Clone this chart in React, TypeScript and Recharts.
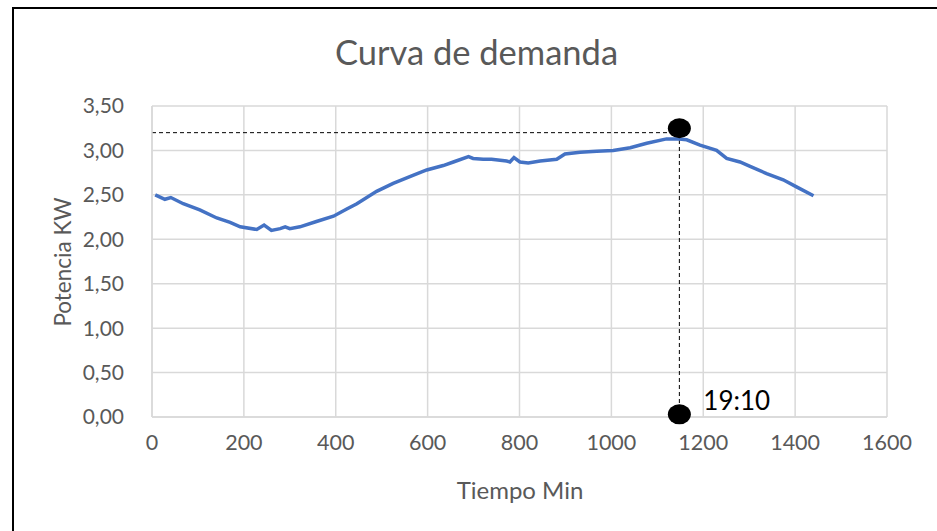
import React from "react";
import {
  LineChart,
  Line,
  XAxis,
  YAxis,
  CartesianGrid,
  ReferenceLine,
  ReferenceDot,
} from "recharts";

// minutes of the day vs demand (kW)
const minutes = [
  7, 28, 41, 68, 104, 141, 170, 192, 228, 244, 260, 279, 290, 300, 322, 358, 395, 424,
  446, 489, 525, 568, 598, 634, 656, 689, 699, 721, 739, 772, 779, 788, 801, 819, 845,
  881, 899, 932, 968, 1004, 1041, 1077, 1120, 1142, 1164, 1193, 1229, 1251, 1280, 1302,
  1338, 1374, 1403, 1440,
];
const potencia = [
  2.5, 2.45, 2.47, 2.4, 2.33, 2.24, 2.19, 2.14, 2.11, 2.16, 2.1, 2.12, 2.14, 2.12, 2.14,
  2.2, 2.26, 2.34, 2.4, 2.54, 2.63, 2.72, 2.78, 2.83, 2.87, 2.93, 2.91, 2.9, 2.9, 2.88,
  2.87, 2.92, 2.87, 2.86, 2.88, 2.9, 2.96, 2.98, 2.99, 3.0, 3.03, 3.08, 3.13, 3.13, 3.12,
  3.06, 3.0, 2.91, 2.87, 2.82, 2.74, 2.67, 2.59, 2.49,
];
const xTicks = [0, 200, 400, 600, 800, 1000, 1200, 1400, 1600];
const yTicks = [0, 0.5, 1, 1.5, 2, 2.5, 3, 3.5];

// peak marker
const peakMin = 1148;
const peakKw = 3.2;
const peakLabel = "19:10";

const data = minutes.map((m, i) => ({ m, kw: potencia[i] }));

const FONT = "Lato, 'Open Sans', sans-serif";
const GRAY = "#595959";
const GRID = "#d9d9d9";

const blob = (props: any) => (
  <ellipse cx={props.cx} cy={props.cy} rx={11.5} ry={10} fill="#000" />
);

export default function App() {
  return (
    <div
      style={{
        position: "absolute",
        left: 0,
        top: 0,
        width: 937,
        height: 531,
        overflow: "hidden",
        background: "#fff",
        fontFamily: FONT,
      }}
    >
      {/* outer frame */}
      <div
        style={{
          position: "absolute",
          left: 12,
          top: 7,
          width: 960,
          height: 560,
          border: "2px solid #000",
        }}
      />
      <div
        style={{
          position: "absolute",
          left: 0,
          width: 953,
          top: 29,
          textAlign: "center",
          fontSize: 34.5,
          color: GRAY,
          lineHeight: "46px",
        }}
      >
        Curva de demanda
      </div>
      <div
        style={{
          position: "absolute",
          left: 63 - 100,
          top: 262 - 15,
          width: 200,
          textAlign: "center",
          fontSize: 22.5,
          color: GRAY,
          lineHeight: "30px",
          transform: "rotate(-90deg)",
        }}
      >
        Potencia KW
      </div>
      <div
        style={{
          position: "absolute",
          left: 420,
          width: 200,
          top: 475,
          textAlign: "center",
          fontSize: 24,
          color: GRAY,
          lineHeight: "30px",
        }}
      >
        Tiempo Min
      </div>

      <div style={{ position: "absolute", left: 0, top: 0 }}>
        <LineChart
          width={937}
          height={531}
          data={data}
          margin={{ top: 106, right: 50, bottom: 74, left: 92 }}
        >
          <CartesianGrid stroke={GRID} strokeWidth={1.5} />
          <XAxis
            dataKey="m"
            type="number"
            domain={[0, 1600]}
            ticks={xTicks}
            height={40}
            axisLine={{ stroke: GRID, strokeWidth: 1.5 }}
            tickLine={false}
            tickMargin={12}
            tick={{ fill: GRAY, fontSize: 21.5, fontFamily: FONT }}
          />
          <YAxis
            type="number"
            domain={[0, 3.5]}
            ticks={yTicks}
            width={60}
            axisLine={{ stroke: GRID, strokeWidth: 1.5 }}
            tickLine={false}
            tickMargin={22}
            tickFormatter={(v: number) => v.toFixed(2).replace(".", ",")}
            tick={{ fill: GRAY, fontSize: 21, fontFamily: FONT }}
          />
          <ReferenceLine
            segment={[
              { x: 0, y: peakKw },
              { x: peakMin, y: peakKw },
            ]}
            stroke="#000"
            strokeDasharray="4 3"
          />
          <ReferenceLine
            segment={[
              { x: peakMin, y: 0 },
              { x: peakMin, y: peakKw },
            ]}
            stroke="#000"
            strokeDasharray="4 3"
          />
          <Line
            type="linear"
            dataKey="kw"
            stroke="#4472C4"
            strokeWidth={3.5}
            dot={false}
            isAnimationActive={false}
          />
          <ReferenceDot x={peakMin} y={3.25} r={11} shape={blob} />
          <ReferenceDot
            x={peakMin}
            y={0.03}
            r={11}
            shape={blob}
            label={(p: any) => {
              const vb = p.viewBox || {};
              const cx = (vb.x ?? 0) + (vb.width ?? 0) / 2;
              const cy = (vb.y ?? 0) + (vb.height ?? 0) / 2;
              return (
                <text
                  x={cx + 24}
                  y={cy - 4}
                  fontSize={26}
                  fontFamily={FONT}
                  fill="#000"
                >
                  {peakLabel}
                </text>
              );
            }}
          />
        </LineChart>
      </div>
    </div>
  );
}
